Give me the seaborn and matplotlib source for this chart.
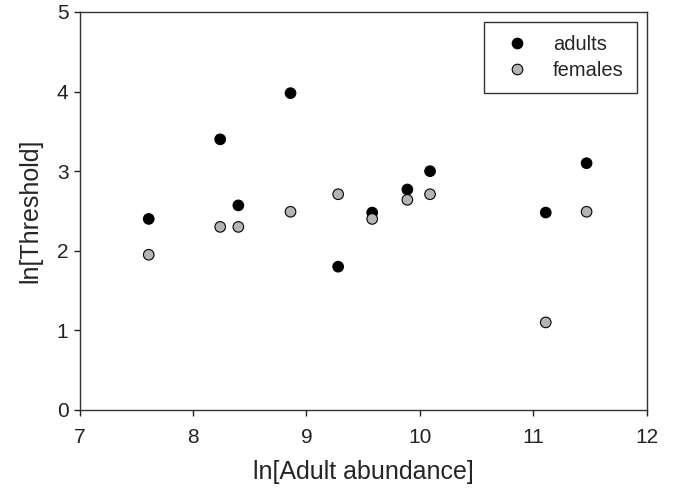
import matplotlib
matplotlib.use("Agg")
import matplotlib.pyplot as plt
import seaborn as sns
import pandas as pd

abundance = [7.61, 8.24, 8.40, 8.86, 9.28, 9.58, 9.89, 10.09, 11.11, 11.47]
adults = [2.40, 3.40, 2.57, 3.98, 1.80, 2.48, 2.77, 3.00, 2.48, 3.10]
females = [1.95, 2.30, 2.30, 2.49, 2.71, 2.40, 2.64, 2.71, 1.10, 2.49]

df = pd.DataFrame({
    "x": abundance * 2,
    "y": adults + females,
    "group": ["adults"] * len(adults) + ["females"] * len(females),
})

sns.set_style("ticks")
plt.rcParams["font.family"] = ["Liberation Sans", "DejaVu Sans"]

fig = plt.figure(figsize=(6.74, 4.92), dpi=100)
ax = fig.add_axes([0.118, 0.1667, 0.8415, 0.809])

sns.scatterplot(data=df, x="x", y="y", hue="group",
                palette={"adults": "black", "females": "#b4b4b4"},
                edgecolor="black", linewidth=0.8, s=58, ax=ax, zorder=3)

ax.set_xlim(7, 12)
ax.set_ylim(0, 5)
ax.set_xticks([7, 8, 9, 10, 11, 12])
ax.set_yticks([0, 1, 2, 3, 4, 5])
ax.set_xlabel("ln[Adult abundance]", fontsize=18, labelpad=9)
ax.set_ylabel("ln[Threshold]", fontsize=18, labelpad=10)
ax.tick_params(axis="both", labelsize=15, direction="out", length=4, width=1, colors="#222222")
ax.tick_params(axis="x", pad=9)
ax.tick_params(axis="y", pad=4)
for sp in ax.spines.values():
    sp.set_linewidth(1.0)
    sp.set_color("#333333")

leg = ax.legend(loc="upper right", bbox_to_anchor=(0.99, 0.985), fontsize=14.5,
                frameon=True, fancybox=False, edgecolor="black",
                handletextpad=0.8, borderpad=0.65, borderaxespad=0.2,
                labelspacing=0.35, markerscale=1.0, handlelength=2.0)
leg.get_frame().set_linewidth(1.0)

fig.savefig("out.png", dpi=100)
